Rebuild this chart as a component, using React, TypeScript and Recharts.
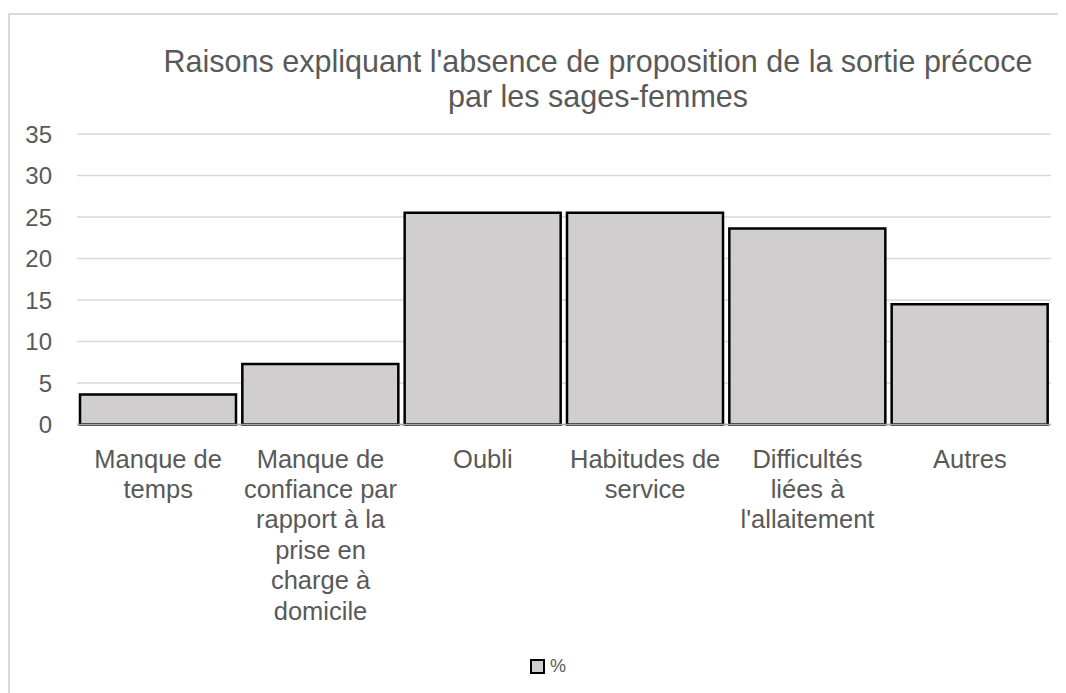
import React from "react"
import { BarChart, Bar, XAxis, YAxis, CartesianGrid, Legend } from "recharts"

const categories = [
  "Manque de temps",
  "Manque de confiance par rapport à la prise en charge à domicile",
  "Oubli",
  "Habitudes de service",
  "Difficultés liées à l'allaitement",
  "Autres",
]
// how the labels wrap under each bar
const tickLines = [
  ["Manque de", "temps"],
  ["Manque de", "confiance par", "rapport à la", "prise en", "charge à", "domicile"],
  ["Oubli"],
  ["Habitudes de", "service"],
  ["Difficultés", "liées à", "l'allaitement"],
  ["Autres"],
]
const percent = [3.6, 7.3, 25.5, 25.5, 23.6, 14.5]
const yTicks = [0, 5, 10, 15, 20, 25, 30, 35]

const data = categories.map((name, i) => ({ name, pct: percent[i] }))

const FONT = "'Liberation Sans', Arial, sans-serif"
const TEXT = "#595959"

const CategoryTick = (props: any) => {
  const { x, y, index } = props
  const lines = tickLines[index] || []
  return (
    <text x={x} y={y} textAnchor="middle" fill={TEXT} fontSize={25.5} fontFamily={FONT}>
      {lines.map((l, i) => (
        <tspan key={i} x={x} y={y + 35 + i * 30.4}>
          {l}
        </tspan>
      ))}
    </text>
  )
}

const LegendBox = () => (
  <div
    style={{
      display: "flex",
      justifyContent: "center",
      alignItems: "center",
      fontFamily: FONT,
      fontSize: 18,
      color: TEXT,
      paddingLeft: 20,
    }}
  >
    <span
      style={{
        display: "inline-block",
        width: 11,
        height: 11,
        background: "#D0CECE",
        border: "2px solid #000",
        marginRight: 5,
      }}
    />
    <span>%</span>
  </div>
)

export default function App() {
  return (
    <div
      style={{
        position: "relative",
        marginTop: 5,
        width: 1064,
        height: 678,
        borderLeft: "2px solid #d9d9d9",
        borderTop: "2px solid #d9d9d9",
        overflow: "hidden",
      }}
    >
      <style>{`body{overflow:hidden}`}</style>
      <div
        style={{
          position: "absolute",
          left: 0,
          width: 1176,
          top: 29,
          textAlign: "center",
          fontFamily: FONT,
          fontSize: 30.5,
          lineHeight: "35px",
          color: TEXT,
        }}
      >
        Raisons expliquant l'absence de proposition de la sortie précoce
        <br />
        par les sages-femmes
      </div>
      <BarChart
        width={1056}
        height={678}
        data={data}
        margin={{ top: 119, right: 15, bottom: 0, left: 0 }}
        barCategoryGap={3}
      >
        <CartesianGrid vertical={false} stroke="#d9d9d9" strokeWidth={1.5} />
        <XAxis
          dataKey="name"
          interval={0}
          height={268.5}
          tickLine={false}
          axisLine={{ stroke: "#a6a6a6", strokeWidth: 1.5 }}
          tick={<CategoryTick />}
        />
        <YAxis
          domain={[0, 35]}
          ticks={yTicks}
          width={67}
          axisLine={false}
          tickLine={false}
          tickSize={0}
          tickMargin={25}
          tick={{ fill: TEXT, fontSize: 24, fontFamily: FONT }}
        />
        <Legend
          verticalAlign="middle"
          align="center"
          content={<LegendBox />}
          wrapperStyle={{ top: 641, left: 0, width: 1056, height: 20 }}
        />
        <Bar
          dataKey="pct"
          name="%"
          fill="#D0CECE"
          stroke="#000"
          strokeWidth={2.5}
          isAnimationActive={false}
        />
      </BarChart>
    </div>
  )
}
